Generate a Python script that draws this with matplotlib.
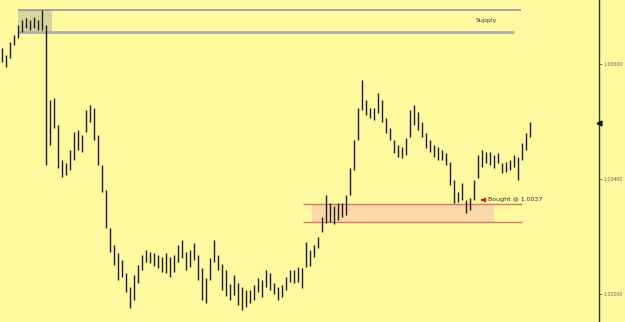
import numpy as np
import matplotlib.pyplot as plt
from matplotlib.patches import Rectangle

# precios (maximo / minimo de cada barra)
highs = [1.00628, 1.00615, 1.00638, 1.00650, 1.00668, 1.00676, 1.00680, 1.00676, 1.00681, 1.00676,
         1.00694, 1.00668, 1.00537, 1.00541, 1.00494, 1.00433, 1.00427, 1.00450, 1.00481, 1.00485,
         1.00476, 1.00520, 1.00528, 1.00523, 1.00476, 1.00424, 1.00380, 1.00314, 1.00285, 1.00271,
         1.00259, 1.00236, 1.00212, 1.00233, 1.00250, 1.00267, 1.00276, 1.00273, 1.00271, 1.00267,
         1.00264, 1.00271, 1.00264, 1.00267, 1.00285, 1.00293, 1.00273, 1.00276, 1.00288, 1.00267,
         1.00245, 1.00227, 1.00262, 1.00293, 1.00267, 1.00252, 1.00241, 1.00217, 1.00233, 1.00219,
         1.00212, 1.00206, 1.00206, 1.00215, 1.00227, 1.00224, 1.00241, 1.00236, 1.00219, 1.00212,
         1.00215, 1.00229, 1.00241, 1.00241, 1.00246, 1.00245, 1.00290, 1.00276, 1.00285, 1.00299,
         1.00333, 1.00372, 1.00358, 1.00353, 1.00358, 1.00358, 1.00372, 1.00419, 1.00467, 1.00523,
         1.00572, 1.00537, 1.00523, 1.00523, 1.00549, 1.00537, 1.00506, 1.00488, 1.00467, 1.00459,
         1.00455, 1.00471, 1.00520, 1.00528, 1.00516, 1.00499, 1.00480, 1.00467, 1.00459, 1.00455,
         1.00450, 1.00445, 1.00429, 1.00398, 1.00377, 1.00393, 1.00363, 1.00367, 1.00398, 1.00441,
         1.00450, 1.00446, 1.00446, 1.00441, 1.00445, 1.00427, 1.00429, 1.00433, 1.00441, 1.00438,
         1.00462, 1.00480, 1.00499]
lows = [1.00603, 1.00594, 1.00610, 1.00633, 1.00645, 1.00655, 1.00662, 1.00659, 1.00662, 1.00659,
        1.00659, 1.00424, 1.00459, 1.00488, 1.00419, 1.00403, 1.00406, 1.00415, 1.00433, 1.00450,
        1.00446, 1.00481, 1.00499, 1.00467, 1.00424, 1.00377, 1.00314, 1.00273, 1.00250, 1.00224,
        1.00229, 1.00203, 1.00175, 1.00189, 1.00219, 1.00241, 1.00255, 1.00253, 1.00248, 1.00245,
        1.00238, 1.00236, 1.00229, 1.00238, 1.00255, 1.00262, 1.00241, 1.00246, 1.00259, 1.00224,
        1.00189, 1.00184, 1.00224, 1.00255, 1.00241, 1.00206, 1.00196, 1.00189, 1.00198, 1.00180,
        1.00172, 1.00177, 1.00184, 1.00189, 1.00203, 1.00194, 1.00212, 1.00206, 1.00199, 1.00189,
        1.00194, 1.00206, 1.00220, 1.00219, 1.00220, 1.00210, 1.00246, 1.00248, 1.00264, 1.00280,
        1.00307, 1.00323, 1.00325, 1.00321, 1.00328, 1.00333, 1.00337, 1.00372, 1.00415, 1.00467,
        1.00520, 1.00511, 1.00506, 1.00502, 1.00514, 1.00499, 1.00480, 1.00467, 1.00445, 1.00438,
        1.00436, 1.00441, 1.00473, 1.00494, 1.00485, 1.00473, 1.00453, 1.00446, 1.00438, 1.00433,
        1.00433, 1.00424, 1.00389, 1.00358, 1.00360, 1.00363, 1.00340, 1.00346, 1.00363, 1.00401,
        1.00420, 1.00427, 1.00424, 1.00419, 1.00427, 1.00410, 1.00412, 1.00415, 1.00420, 1.00398,
        1.00433, 1.00450, 1.00473]

supply_top, supply_bot = 1.00694, 1.00655
demand_top, demand_bot = 1.00356, 1.00325
bought_price = 1.00363
last_price = 1.00497
yticks = [1.00200, 1.00400, 1.00600]

bg = '#fffa9f'
fig = plt.figure(figsize=(6.25, 3.22), dpi=100, facecolor=bg)
ax = fig.add_axes([0, 0, 599 / 625, 1], facecolor=bg)

x = np.arange(len(highs))

# zona de oferta
ax.add_patch(Rectangle((4, supply_bot), 8.5, supply_top - supply_bot,
                       facecolor='#d9d59a', edgecolor='none', zorder=1))
ax.hlines(supply_top, 4, 129.75, color='#8c8ca0', lw=1.1, zorder=3)
ax.hlines(supply_bot, 4, 128, color='#b0b0ac', lw=2, zorder=3)
ax.text(121, 1.00676, 'Supply', fontsize=4.5, color='#333333', ha='center', va='center')

# zona de demanda
ax.add_patch(Rectangle((77.5, demand_bot), 45.5, demand_top - demand_bot,
                       facecolor='#fcd8a6', edgecolor='none', zorder=1))
ax.hlines([demand_top, demand_bot], 75.25, 130, color='#cc7a6a', lw=1, zorder=3)

# barras
ax.vlines(x, lows, highs, color='#1e1e14', lw=1.0, zorder=4)

ax.annotate('', xy=(119.0, bought_price), xytext=(120.7, bought_price),
            arrowprops=dict(arrowstyle='-|>', color='#dd1111', lw=1.2,
                            mutation_scale=5), zorder=5)
ax.text(121.6, bought_price, 'Bought @ 1.0037', fontsize=4.5, color='#333333',
        va='center', ha='left')

ax.set_xlim(-0.5, 149.25)
ax.set_ylim(1.001507, 1.00711)

for s in ['left', 'top', 'bottom']:
    ax.spines[s].set_visible(False)
ax.spines['right'].set_color('#333333')
ax.spines['right'].set_linewidth(1)
ax.set_xticks([])
ax.yaxis.tick_right()
ax.set_yticks(yticks)
ax.set_yticklabels(['%.5f' % v for v in yticks], family='Liberation Sans')
ax.tick_params(axis='y', length=2.5, width=0.6, colors='#666666', labelsize=3.8, pad=1)

ax.plot([149.25], [last_price], marker='<', color='#111111', markersize=3.5,
        clip_on=False, zorder=6)

fig.savefig('out.png', dpi=100, facecolor=bg)
